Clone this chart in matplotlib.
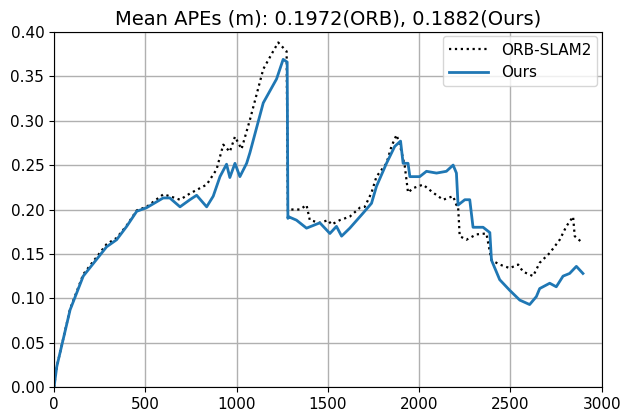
import matplotlib
matplotlib.use("Agg")
import matplotlib.pyplot as plt

# APE values (frame index, metres)
orb_x = [0, 15, 88, 160, 288, 343, 398, 453, 507, 598, 634, 690, 744, 781,
         836, 890, 927, 963, 991, 1027, 1073, 1146, 1200, 1228, 1274, 1281,
         1292, 1347, 1383, 1401, 1456, 1501, 1520, 1565, 1620, 1675, 1702,
         1739, 1766, 1821, 1848, 1876, 1894, 1921, 1939, 1966, 2021, 2076,
         2131, 2186, 2204, 2213, 2222, 2259, 2314, 2368, 2396, 2441, 2496,
         2542, 2569, 2624, 2660, 2715, 2770, 2806, 2843, 2852, 2897]
orb_y = [0.0, 0.023, 0.088, 0.127, 0.161, 0.168, 0.182, 0.199, 0.203, 0.217,
         0.215, 0.211, 0.218, 0.222, 0.228, 0.245, 0.273, 0.265, 0.282, 0.268,
         0.301, 0.358, 0.378, 0.388, 0.378, 0.198, 0.200, 0.200, 0.205, 0.188,
         0.185, 0.188, 0.183, 0.188, 0.192, 0.202, 0.203, 0.219, 0.237, 0.252,
         0.271, 0.284, 0.273, 0.249, 0.219, 0.224, 0.228, 0.219, 0.211, 0.215,
         0.205, 0.204, 0.170, 0.166, 0.172, 0.173, 0.143, 0.138, 0.134, 0.138,
         0.130, 0.125, 0.140, 0.151, 0.166, 0.181, 0.192, 0.170, 0.162]

ours_x = [0, 15, 88, 160, 288, 343, 398, 453, 507, 598, 634, 690, 744, 781,
          836, 872, 909, 945, 963, 991, 1018, 1055, 1073, 1146, 1219, 1255,
          1277, 1281, 1283, 1328, 1383, 1456, 1511, 1547, 1575, 1620, 1693,
          1739, 1766, 1821, 1866, 1898, 1912, 1939, 1949, 2003, 2040, 2095,
          2149, 2186, 2204, 2213, 2250, 2277, 2295, 2350, 2387, 2396, 2441,
          2496, 2551, 2605, 2642, 2660, 2715, 2751, 2788, 2824, 2861, 2897]
ours_y = [0.0, 0.023, 0.087, 0.125, 0.158, 0.166, 0.181, 0.198, 0.202, 0.213,
          0.213, 0.203, 0.211, 0.216, 0.203, 0.215, 0.237, 0.251, 0.236, 0.252,
          0.237, 0.252, 0.264, 0.320, 0.347, 0.369, 0.366, 0.190, 0.192, 0.188,
          0.179, 0.185, 0.173, 0.181, 0.170, 0.179, 0.196, 0.207, 0.226, 0.252,
          0.271, 0.277, 0.252, 0.252, 0.237, 0.237, 0.243, 0.241, 0.243, 0.250,
          0.241, 0.205, 0.211, 0.211, 0.180, 0.180, 0.174, 0.143, 0.121, 0.109,
          0.098, 0.093, 0.102, 0.111, 0.117, 0.113, 0.125, 0.128, 0.136, 0.128]

plt.rcParams['font.size'] = 11

fig = plt.figure(figsize=(6.21, 4.19), dpi=100)
ax = fig.add_axes([0.087, 0.076, 0.882, 0.848])

ax.plot(orb_x, orb_y, ':', color='black', linewidth=1.6, label='ORB-SLAM2')
ax.plot(ours_x, ours_y, '-', color='#1f77b4', linewidth=2, label='Ours')

ax.set_xlim(0, 3000)
ax.set_ylim(0, 0.40)
ax.set_xticks([0, 500, 1000, 1500, 2000, 2500, 3000])
ax.set_yticks([0.0, 0.05, 0.10, 0.15, 0.20, 0.25, 0.30, 0.35, 0.40])
ax.yaxis.set_major_formatter(matplotlib.ticker.FormatStrFormatter('%.2f'))
ax.grid(True, color='#b0b0b0', linewidth=1)
ax.set_title('Mean APEs (m): 0.1972(ORB), 0.1882(Ours)', fontsize=14, pad=5)
ax.legend(loc='upper right', fontsize=11, handlelength=2.6,
          borderaxespad=0.3)

fig.savefig('out.png', dpi=100)
